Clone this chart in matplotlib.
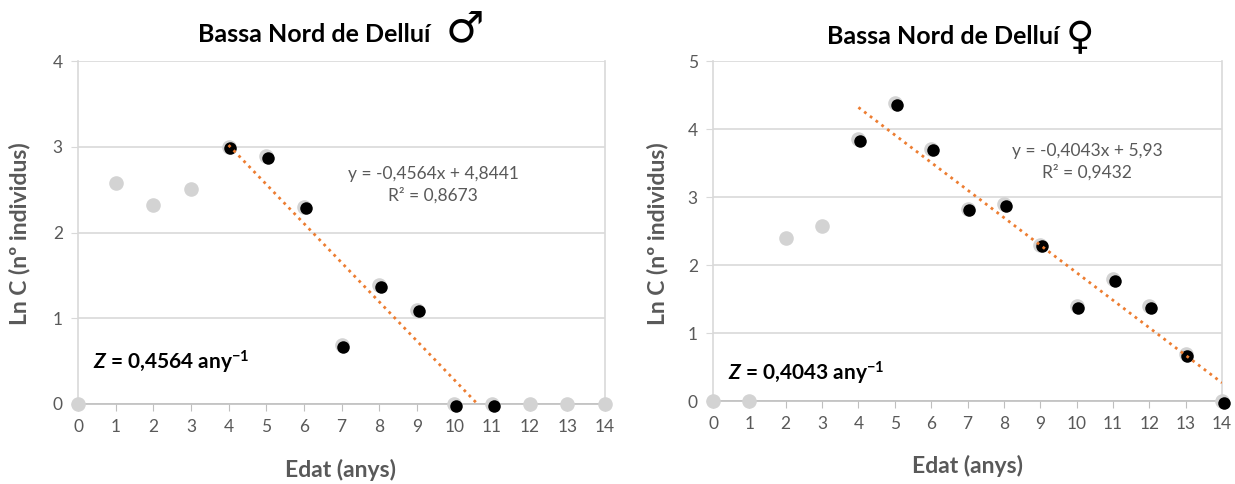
import matplotlib
matplotlib.use("Agg")
import matplotlib.pyplot as plt
import numpy as np

# ---- data ----
ages = list(range(15))
male_lnc = [0.0, 2.58, 2.32, 2.51, 3.00, 2.89, 2.30, 0.69, 1.39, 1.10, 0.0, 0.0, 0.0, 0.0, 0.0]
male_fit_ages = [4, 5, 6, 7, 8, 9, 10, 11]
female_lnc = [0.0, 0.0, 2.40, 2.58, 3.85, 4.38, 3.71, 2.83, 2.89, 2.30, 1.39, 1.79, 1.39, 0.69, 0.0]
female_fit_ages = [4, 5, 6, 7, 8, 9, 10, 11, 12, 13, 14]

male_eq = "y = -0,4564x + 4,8441\nR² = 0,8673"
female_eq = "y = -0,4043x + 5,93\nR² = 0,9432"
male_z = r"$\mathbfit{Z}$ = 0,4564 any$^{\mathbf{-1}}$"
female_z = r"$\mathbfit{Z}$ = 0,4043 any$^{\mathbf{-1}}$"
title = "Bassa Nord de Delluí"
xlabel = "Edat (anys)"
ylabel = "Ln C (nº individus)"

FONT = ["Lato", "DejaVu Sans"]
plt.rcParams['font.family'] = FONT
plt.rcParams['mathtext.fontset'] = 'custom'
plt.rcParams['mathtext.rm'] = 'Lato'
plt.rcParams['mathtext.it'] = 'Lato:italic'
plt.rcParams['mathtext.bf'] = 'Lato:bold'
plt.rcParams['mathtext.bfit'] = 'Lato:italic:bold'
GRAY_TXT = "#595959"
GRID = "#D9D9D9"

fig = plt.figure(figsize=(12.35, 4.84), dpi=100)
W, H = 1235, 484

def px_axes(x0, x1, ytop, ybot):
    return fig.add_axes([x0 / W, 1 - ybot / H, (x1 - x0) / W, (ybot - ytop) / H])

axL = px_axes(78, 605, 61, 404)
axR = px_axes(713, 1222, 61, 401)

def f(x, y):
    return (x / W, 1 - y / H)

def setup(ax, values, fit_ages, ymax, eq, eqpos, ztxt, zpos, symbol, symsize, tpos, sympos,
          ylab_x, xlab_pos):
    ax.set_xlim(0, 14)
    ax.set_ylim(0, ymax)
    ax.set_xticks(range(15))
    ax.set_yticks(range(ymax + 1))
    ax.grid(axis='y', color=GRID, lw=1.2)
    ax.set_axisbelow(True)
    for s in ['top', 'right', 'left']:
        ax.spines[s].set_color(GRID)
        ax.spines[s].set_linewidth(1.2)
    ax.spines['top'].set_visible(False)
    ax.spines['bottom'].set_color("#BFBFBF")
    ax.spines['bottom'].set_linewidth(1.2)
    ax.tick_params(axis='x', direction='out', length=5, color="#BFBFBF", colors=GRAY_TXT,
                   labelsize=12.5, pad=6)
    ax.tick_params(axis='y', direction='out', length=5, color=GRID, colors=GRAY_TXT,
                   labelsize=12.5, pad=6)
    # all points gray
    ax.scatter(ages, values, s=10.5**2, color="#D3D3D3", zorder=3, clip_on=False, linewidths=0)
    # fitted subset black
    fx = np.array(fit_ages)
    fy = np.array([values[a] for a in fit_ages])
    ax.scatter(fx + 0.05, fy - 0.02 * ymax / 4, s=9**2, color="black", zorder=4, clip_on=False,
               linewidths=0)
    # trendline
    coef = np.polyfit(fx, fy, 1)
    xx = np.linspace(fx.min(), fx.max(), 200)
    ax.plot(xx, np.polyval(coef, xx), color="#ED7D31", lw=2, ls=(0, (1, 1.6)), zorder=5)
    fig.text(eqpos[0], eqpos[1], eq, ha='center', va='center',
             fontsize=12.5, color=GRAY_TXT, linespacing=1.35)
    fig.text(zpos[0], zpos[1], ztxt, ha='left', va='center',
             fontsize=15, color='black', fontweight='bold')
    fig.text(tpos[0], tpos[1], title, ha='right', va='center', fontsize=18,
             fontweight='bold', color='black')
    fig.text(sympos[0], sympos[1], symbol, ha='left', va='center', fontsize=symsize,
             fontweight='bold', color='black', family=["DejaVu Sans"])
    fig.text(ylab_x[0], ylab_x[1], ylabel, rotation=90, ha='center', va='center', fontsize=16.5,
             fontweight='bold', color=GRAY_TXT)
    fig.text(xlab_pos[0], xlab_pos[1], xlabel, ha='center', va='center', fontsize=16.5,
             fontweight='bold', color=GRAY_TXT)

setup(axL, male_lnc, male_fit_ages, 4, male_eq, f(433, 185), male_z, f(93, 362),
      "♂", 31, f(430, 34), f(446, 30), f(20, 234), f(341, 470))
setup(axR, female_lnc, female_fit_ages, 5, female_eq, f(1087, 162), female_z, f(728, 373),
      "♀", 28, f(1059, 37), f(1066, 38), f(658, 234), f(968, 466))

fig.savefig("out.png", dpi=100)
